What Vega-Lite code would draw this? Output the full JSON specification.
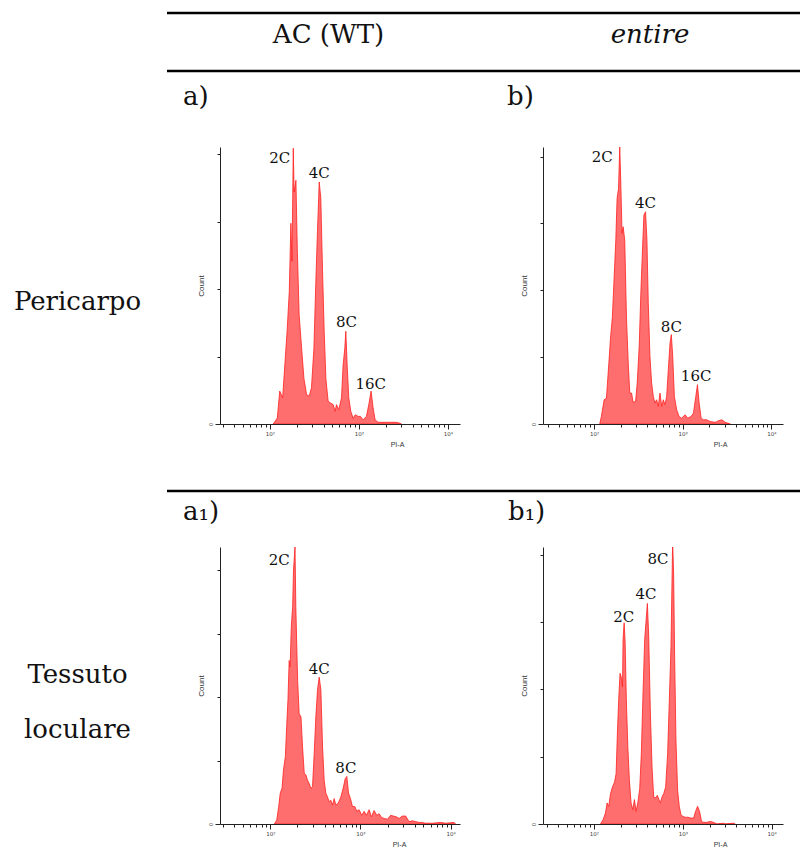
{
  "$schema": "https://vega.github.io/schema/vega-lite/v6.json",
  "padding": 0,
  "background": "white",
  "config": {
    "view": {"stroke": null},
    "axis": {"grid": false, "domainColor": "#222", "tickColor": "#222", "domainWidth": 1, "tickWidth": 1, "tickRound": true, "labelFont": "Liberation Sans", "titleFont": "Liberation Sans", "labelColor": "#444", "titleColor": "#333", "titleFontWeight": "normal"},
    "title": {"font": "DejaVu Serif", "fontSize": 26, "fontWeight": "normal", "color": "#111", "anchor": "start", "frame": "group"},
    "text": {"font": "DejaVu Serif", "color": "#111"},
    "rule": {"strokeWidth": 2.5, "color": "#000"}
  },
  "datasets": {
    "a": [
      {"pi":109,"count":0},{"pi":121,"count":7},{"pi":129,"count":39},{"pi":139,"count":31},{"pi":147,"count":70},{"pi":156,"count":110},{"pi":165,"count":157},{"pi":172,"count":238},{"pi":177,"count":193},{"pi":183,"count":327},{"pi":187,"count":275},{"pi":196,"count":289},{"pi":203,"count":208},{"pi":213,"count":129},{"pi":227,"count":90},{"pi":241,"count":54},{"pi":258,"count":35},{"pi":276,"count":33},{"pi":293,"count":43},{"pi":312,"count":90},{"pi":328,"count":169},{"pi":342,"count":228},{"pi":358,"count":287},{"pi":373,"count":268},{"pi":390,"count":181},{"pi":407,"count":110},{"pi":425,"count":54},{"pi":451,"count":27},{"pi":479,"count":25},{"pi":513,"count":23},{"pi":540,"count":15},{"pi":559,"count":23},{"pi":594,"count":17},{"pi":637,"count":31},{"pi":664,"count":70},{"pi":694,"count":90},{"pi":712,"count":110},{"pi":737,"count":70},{"pi":769,"count":31},{"pi":810,"count":15},{"pi":860,"count":7},{"pi":913,"count":11},{"pi":979,"count":9},{"pi":1039,"count":9},{"pi":1114,"count":5},{"pi":1214,"count":9},{"pi":1290,"count":23},{"pi":1369,"count":39},{"pi":1442,"count":19},{"pi":1518,"count":5},{"pi":1641,"count":2},{"pi":1866,"count":2},{"pi":2217,"count":2},{"pi":2634,"count":2},{"pi":2871,"count":1},{"pi":2997,"count":0}
    ],
    "b": [
      {"pi":116,"count":0},{"pi":121,"count":9},{"pi":130,"count":29},{"pi":138,"count":31},{"pi":147,"count":73},{"pi":153,"count":101},{"pi":161,"count":128},{"pi":168,"count":172},{"pi":176,"count":220},{"pi":182,"count":270},{"pi":189,"count":282},{"pi":195,"count":332},{"pi":200,"count":292},{"pi":207,"count":228},{"pi":213,"count":236},{"pi":222,"count":220},{"pi":232,"count":128},{"pi":243,"count":73},{"pi":253,"count":37},{"pi":265,"count":37},{"pi":276,"count":26},{"pi":294,"count":27},{"pi":307,"count":49},{"pi":323,"count":93},{"pi":338,"count":160},{"pi":353,"count":212},{"pi":365,"count":250},{"pi":381,"count":254},{"pi":395,"count":220},{"pi":409,"count":144},{"pi":427,"count":81},{"pi":446,"count":49},{"pi":466,"count":33},{"pi":486,"count":25},{"pi":508,"count":29},{"pi":530,"count":21},{"pi":554,"count":37},{"pi":579,"count":21},{"pi":604,"count":29},{"pi":631,"count":23},{"pi":659,"count":33},{"pi":688,"count":65},{"pi":719,"count":97},{"pi":744,"count":107},{"pi":771,"count":81},{"pi":805,"count":33},{"pi":855,"count":17},{"pi":909,"count":9},{"pi":974,"count":7},{"pi":1063,"count":11},{"pi":1139,"count":7},{"pi":1243,"count":9},{"pi":1321,"count":13},{"pi":1404,"count":33},{"pi":1466,"count":47},{"pi":1531,"count":25},{"pi":1613,"count":7},{"pi":1714,"count":5},{"pi":1870,"count":5},{"pi":2039,"count":3},{"pi":2323,"count":2},{"pi":2534,"count":4},{"pi":2764,"count":5},{"pi":3015,"count":2},{"pi":3435,"count":0}
    ],
    "a1": [
      {"pi":111,"count":0},{"pi":118,"count":5},{"pi":124,"count":22},{"pi":129,"count":39},{"pi":135,"count":45},{"pi":140,"count":68},{"pi":147,"count":85},{"pi":152,"count":123},{"pi":157,"count":156},{"pi":162,"count":206},{"pi":166,"count":198},{"pi":171,"count":248},{"pi":177,"count":274},{"pi":181,"count":320},{"pi":188,"count":349},{"pi":192,"count":274},{"pi":201,"count":181},{"pi":209,"count":139},{"pi":219,"count":135},{"pi":228,"count":97},{"pi":238,"count":64},{"pi":248,"count":62},{"pi":259,"count":55},{"pi":270,"count":51},{"pi":282,"count":45},{"pi":294,"count":47},{"pi":307,"count":89},{"pi":320,"count":135},{"pi":334,"count":169},{"pi":349,"count":185},{"pi":364,"count":169},{"pi":380,"count":97},{"pi":396,"count":55},{"pi":413,"count":39},{"pi":431,"count":34},{"pi":450,"count":28},{"pi":469,"count":30},{"pi":490,"count":24},{"pi":511,"count":32},{"pi":533,"count":24},{"pi":566,"count":26},{"pi":606,"count":34},{"pi":643,"count":45},{"pi":677,"count":57},{"pi":706,"count":60},{"pi":737,"count":39},{"pi":775,"count":32},{"pi":815,"count":22},{"pi":866,"count":22},{"pi":911,"count":16},{"pi":966,"count":18},{"pi":1035,"count":11},{"pi":1098,"count":16},{"pi":1165,"count":11},{"pi":1247,"count":18},{"pi":1324,"count":9},{"pi":1417,"count":17},{"pi":1516,"count":11},{"pi":1609,"count":13},{"pi":1722,"count":8},{"pi":1828,"count":7},{"pi":1991,"count":6},{"pi":2167,"count":11},{"pi":2319,"count":10},{"pi":2503,"count":9},{"pi":2679,"count":7},{"pi":2917,"count":10},{"pi":3176,"count":10},{"pi":3458,"count":3},{"pi":3764,"count":4},{"pi":4098,"count":3},{"pi":4461,"count":2},{"pi":4857,"count":2},{"pi":5287,"count":1},{"pi":6266,"count":1},{"pi":7749,"count":2},{"pi":8805,"count":1},{"pi":10887,"count":2},{"pi":11363,"count":0}
    ],
    "b1": [
      {"pi":119,"count":0},{"pi":127,"count":5},{"pi":135,"count":13},{"pi":141,"count":25},{"pi":147,"count":21},{"pi":154,"count":36},{"pi":162,"count":44},{"pi":171,"count":50},{"pi":178,"count":60},{"pi":184,"count":108},{"pi":191,"count":151},{"pi":197,"count":179},{"pi":203,"count":175},{"pi":210,"count":163},{"pi":213,"count":219},{"pi":219,"count":239},{"pi":225,"count":215},{"pi":232,"count":147},{"pi":241,"count":92},{"pi":251,"count":52},{"pi":262,"count":25},{"pi":274,"count":17},{"pi":286,"count":29},{"pi":298,"count":15},{"pi":312,"count":25},{"pi":328,"count":42},{"pi":342,"count":84},{"pi":358,"count":159},{"pi":373,"count":219},{"pi":390,"count":247},{"pi":400,"count":262},{"pi":414,"count":223},{"pi":432,"count":132},{"pi":451,"count":68},{"pi":471,"count":32},{"pi":492,"count":31},{"pi":518,"count":34},{"pi":540,"count":29},{"pi":559,"count":25},{"pi":584,"count":32},{"pi":610,"count":36},{"pi":642,"count":44},{"pi":676,"count":84},{"pi":706,"count":147},{"pi":737,"count":211},{"pi":756,"count":286},{"pi":769,"count":335},{"pi":789,"count":298},{"pi":810,"count":199},{"pi":838,"count":100},{"pi":875,"count":40},{"pi":913,"count":21},{"pi":954,"count":11},{"pi":1004,"count":9},{"pi":1067,"count":8},{"pi":1143,"count":8},{"pi":1235,"count":7},{"pi":1323,"count":7},{"pi":1393,"count":15},{"pi":1467,"count":21},{"pi":1545,"count":15},{"pi":1626,"count":3},{"pi":1713,"count":2},{"pi":1866,"count":2},{"pi":2034,"count":3},{"pi":2217,"count":2},{"pi":2417,"count":0},{"pi":2871,"count":1},{"pi":2997,"count":0},{"pi":3717,"count":1},{"pi":3880,"count":0}
    ],
    "peaks": [
      {"panel":"a","label":"2C","pi":129,"count":315},{"panel":"a","label":"4C","pi":358,"count":298},{"panel":"a","label":"8C","pi":724,"count":121},{"panel":"a","label":"16C","pi":1359,"count":48},
      {"panel":"b","label":"2C","pi":124,"count":320},{"panel":"b","label":"4C","pi":381,"count":264},{"panel":"b","label":"8C","pi":745,"count":116},{"panel":"b","label":"16C","pi":1416,"count":57},
      {"panel":"a1","label":"2C","pi":126,"count":333},{"panel":"a1","label":"4C","pi":349,"count":195},{"panel":"a1","label":"8C","pi":689,"count":70},
      {"panel":"b1","label":"2C","pi":217,"count":246},{"panel":"b1","label":"4C","pi":386,"count":273},{"panel":"b1","label":"8C","pi":527,"count":315}
    ],
    "headers": [{"col":"A","name":"AC (WT)"},{"col":"B","name":"entire"}],
    "rows": [{"row":"A","name":"Pericarpo"},{"row":"B","name":["Tessuto","loculare"]}]
  },
  "concat": [
    {"width": 1, "height": 13, "data": {"values": [{}]}, "mark": "text", "encoding": {}},
    {"width": 1, "height": 13, "data": {"values": [{}]}, "mark": "text", "encoding": {}},
    {"width": 1, "height": 13, "data": {"values": [{}]}, "mark": "text", "encoding": {}},
    {"width": 1, "height": 13, "data": {"values": [{}]}, "mark": "text", "encoding": {}},
    {"width": 1, "height": 13, "data": {"values": [{}]}, "mark": "text", "encoding": {}},
    {"width": 1, "height": 13, "data": {"values": [{}]}, "mark": "text", "encoding": {}},
    {"width": 1, "height": 13, "data": {"values": [{}]}, "mark": "text", "encoding": {}},

    {"width": 167, "height": 58, "data": {"values": [{}]}, "mark": "text", "encoding": {}},
    {"width": 53, "height": 58, "data": {"values": [{}]}, "layer": [
      {"mark": "rule", "encoding": {"y": {"datum": 1, "type": "quantitative", "scale": {"domain": [0, 1]}, "axis": null}}},
      {"mark": "rule", "encoding": {"y": {"datum": 0, "type": "quantitative", "scale": {"domain": [0, 1]}, "axis": null}}}]},
    {"width": 240, "height": 58, "data": {"values": [{}]}, "layer": [
      {"mark": "rule", "encoding": {"y": {"datum": 1, "type": "quantitative", "scale": {"domain": [0, 1]}, "axis": null}}},
      {"mark": "rule", "encoding": {"y": {"datum": 0, "type": "quantitative", "scale": {"domain": [0, 1]}, "axis": null}}},
      {"data": {"name": "headers"}, "transform": [{"filter": "datum.col == 'A'"}], "mark": {"type": "text", "fontSize": 26, "baseline": "alphabetic", "dx": -11.5, "dy": 1}, "encoding": {"text": {"field": "name"}}}]},
    {"width": 29, "height": 58, "data": {"values": [{}]}, "layer": [
      {"mark": "rule", "encoding": {"y": {"datum": 1, "type": "quantitative", "scale": {"domain": [0, 1]}, "axis": null}}},
      {"mark": "rule", "encoding": {"y": {"datum": 0, "type": "quantitative", "scale": {"domain": [0, 1]}, "axis": null}}}]},
    {"width": 54, "height": 58, "data": {"values": [{}]}, "layer": [
      {"mark": "rule", "encoding": {"y": {"datum": 1, "type": "quantitative", "scale": {"domain": [0, 1]}, "axis": null}}},
      {"mark": "rule", "encoding": {"y": {"datum": 0, "type": "quantitative", "scale": {"domain": [0, 1]}, "axis": null}}}]},
    {"width": 240, "height": 58, "data": {"values": [{}]}, "layer": [
      {"mark": "rule", "encoding": {"y": {"datum": 1, "type": "quantitative", "scale": {"domain": [0, 1]}, "axis": null}}},
      {"mark": "rule", "encoding": {"y": {"datum": 0, "type": "quantitative", "scale": {"domain": [0, 1]}, "axis": null}}},
      {"data": {"name": "headers"}, "transform": [{"filter": "datum.col == 'B'"}], "mark": {"type": "text", "fontSize": 26, "fontStyle": "italic", "baseline": "alphabetic", "dx": -13, "dy": 1}, "encoding": {"text": {"field": "name"}}}]},
    {"width": 17, "height": 58, "data": {"values": [{}]}, "layer": [
      {"mark": "rule", "encoding": {"y": {"datum": 1, "type": "quantitative", "scale": {"domain": [0, 1]}, "axis": null}}},
      {"mark": "rule", "encoding": {"y": {"datum": 0, "type": "quantitative", "scale": {"domain": [0, 1]}, "axis": null}}}]},

    {"width": 1, "height": 76, "data": {"values": [{}]}, "mark": "text", "encoding": {}},
    {"width": 1, "height": 76, "data": {"values": [{}]}, "mark": "text", "encoding": {}},
    {"width": 1, "height": 76, "data": {"values": [{}]}, "mark": "text", "encoding": {}},
    {"width": 1, "height": 76, "data": {"values": [{}]}, "mark": "text", "encoding": {}},
    {"width": 1, "height": 76, "data": {"values": [{}]}, "mark": "text", "encoding": {}},
    {"width": 1, "height": 76, "data": {"values": [{}]}, "mark": "text", "encoding": {}},
    {"width": 1, "height": 76, "data": {"values": [{}]}, "mark": "text", "encoding": {}},

    {"width": 167, "height": 277, "data": {"name": "rows"}, "transform": [{"filter": "datum.row == 'A'"}], "mark": {"type": "text", "fontSize": 26, "baseline": "alphabetic", "dx": -6, "dy": 24}, "encoding": {"text": {"field": "name"}}},
    {"width": 1, "height": 277, "data": {"values": [{}]}, "mark": "text", "encoding": {}},
    {
      "width": 240, "height": 277,
      "title": {"text": "a)", "dx": -37, "offset": 16, "baseline": "alphabetic"},
      "layer": [
        {"data": {"name": "a"}, "mark": {"type": "area", "fill": "#ff6e6e", "stroke": "#ff2020", "strokeWidth": 0.8, "clip": true},
         "encoding": {
           "x": {"field": "pi", "type": "quantitative", "title": "PI-A", "scale": {"type": "log", "domain": [27.5, 13650], "nice": false},
                 "axis": {"values": [30,40,50,60,70,80,90,100,200,300,400,500,600,700,800,900,1000,2000,3000,4000,5000,6000,7000,8000,9000,10000], "labelExpr": "datum.value == 100 ? '10²' : datum.value == 1000 ? '10³' : datum.value == 10000 ? '10⁴' : ''", "tickSize": {"condition": {"test": "datum.value == 100 || datum.value == 1000 || datum.value == 10000", "value": 5}, "value": 3}, "labelFont": "DejaVu Sans", "labelFontSize": 5.5, "labelPadding": 2, "labelOverlap": false, "titleFontSize": 7, "titleX": 177, "titleY": 20, "titleAlign": "center", "titleBaseline": "middle"}},
           "y": {"field": "count", "type": "quantitative", "title": "Count", "scale": {"domain": [0, 328.5], "nice": false},
                 "axis": {"values": [0,10,20,30,40,50,60,70,80,90,100,110,120,130,140,150,160,170,180,190,200,210,220,230,240,250,260,270,280,290,300,310,320], "labelExpr": "datum.value % 50 === 0 ? datum.label : ''", "tickSize": {"condition": {"test": "datum.value % 50 === 0", "value": 5}, "value": 3}, "labelAngle": 270, "labelAlign": "center", "labelBaseline": "bottom", "labelFontSize": 5.5, "labelPadding": 2, "labelOverlap": false, "titleFontSize": 8, "titlePadding": 3}}
         }},
        {"data": {"name": "peaks"}, "transform": [{"filter": "datum.panel == 'a'"}], "mark": {"type": "text", "fontSize": 15, "baseline": "middle"},
         "encoding": {"x": {"field": "pi", "type": "quantitative", "title": "PI-A"}, "y": {"field": "count", "type": "quantitative", "title": "Count"}, "text": {"field": "label"}}}
      ]
    },
    {"width": 1, "height": 277, "data": {"values": [{}]}, "mark": "text", "encoding": {}},
    {"width": 1, "height": 277, "data": {"values": [{}]}, "mark": "text", "encoding": {}},
    {
      "width": 240, "height": 277,
      "title": {"text": "b)", "dx": -36, "offset": 16, "baseline": "alphabetic"},
      "layer": [
        {"data": {"name": "b"}, "mark": {"type": "area", "fill": "#ff6e6e", "stroke": "#ff2020", "strokeWidth": 0.8, "clip": true},
         "encoding": {
           "x": {"field": "pi", "type": "quantitative", "title": "PI-A", "scale": {"type": "log", "domain": [26.6, 13500], "nice": false},
                 "axis": {"values": [30,40,50,60,70,80,90,100,200,300,400,500,600,700,800,900,1000,2000,3000,4000,5000,6000,7000,8000,9000,10000], "labelExpr": "datum.value == 100 ? '10²' : datum.value == 1000 ? '10³' : datum.value == 10000 ? '10⁴' : ''", "tickSize": {"condition": {"test": "datum.value == 100 || datum.value == 1000 || datum.value == 10000", "value": 5}, "value": 3}, "labelFont": "DejaVu Sans", "labelFontSize": 5.5, "labelPadding": 2, "labelOverlap": false, "titleFontSize": 7, "titleX": 177, "titleY": 20, "titleAlign": "center", "titleBaseline": "middle"}},
           "y": {"field": "count", "type": "quantitative", "title": "Count", "scale": {"domain": [0, 331.5], "nice": false},
                 "axis": {"values": [0,10,20,30,40,50,60,70,80,90,100,110,120,130,140,150,160,170,180,190,200,210,220,230,240,250,260,270,280,290,300,310,320,330], "labelExpr": "datum.value % 50 === 0 ? datum.label : ''", "tickSize": {"condition": {"test": "datum.value % 50 === 0", "value": 5}, "value": 3}, "labelAngle": 270, "labelAlign": "center", "labelBaseline": "bottom", "labelFontSize": 5.5, "labelPadding": 2, "labelOverlap": false, "titleFontSize": 8, "titlePadding": 3}}
         }},
        {"data": {"name": "peaks"}, "transform": [{"filter": "datum.panel == 'b'"}], "mark": {"type": "text", "fontSize": 15, "baseline": "middle"},
         "encoding": {"x": {"field": "pi", "type": "quantitative", "title": "PI-A"}, "y": {"field": "count", "type": "quantitative", "title": "Count"}, "text": {"field": "label"}}}
      ]
    },
    {"width": 1, "height": 277, "data": {"values": [{}]}, "mark": "text", "encoding": {}},

    {"width": 1, "height": 67, "data": {"values": [{}]}, "mark": "text", "encoding": {}},
    {"width": 1, "height": 67, "data": {"values": [{}]}, "mark": "text", "encoding": {}},
    {"width": 1, "height": 67, "data": {"values": [{}]}, "mark": "text", "encoding": {}},
    {"width": 1, "height": 67, "data": {"values": [{}]}, "mark": "text", "encoding": {}},
    {"width": 1, "height": 67, "data": {"values": [{}]}, "mark": "text", "encoding": {}},
    {"width": 1, "height": 67, "data": {"values": [{}]}, "mark": "text", "encoding": {}},
    {"width": 1, "height": 67, "data": {"values": [{}]}, "mark": "text", "encoding": {}},

    {"width": 167, "height": 56, "data": {"values": [{}]}, "mark": "text", "encoding": {}},
    {"width": 53, "height": 56, "data": {"values": [{}]}, "mark": "rule", "encoding": {"y": {"datum": 1, "type": "quantitative", "scale": {"domain": [0, 1]}, "axis": null}}},
    {"width": 240, "height": 56, "data": {"values": [{}]}, "mark": "rule", "encoding": {"y": {"datum": 1, "type": "quantitative", "scale": {"domain": [0, 1]}, "axis": null}}},
    {"width": 29, "height": 56, "data": {"values": [{}]}, "mark": "rule", "encoding": {"y": {"datum": 1, "type": "quantitative", "scale": {"domain": [0, 1]}, "axis": null}}},
    {"width": 54, "height": 56, "data": {"values": [{}]}, "mark": "rule", "encoding": {"y": {"datum": 1, "type": "quantitative", "scale": {"domain": [0, 1]}, "axis": null}}},
    {"width": 240, "height": 56, "data": {"values": [{}]}, "mark": "rule", "encoding": {"y": {"datum": 1, "type": "quantitative", "scale": {"domain": [0, 1]}, "axis": null}}},
    {"width": 17, "height": 56, "data": {"values": [{}]}, "mark": "rule", "encoding": {"y": {"datum": 1, "type": "quantitative", "scale": {"domain": [0, 1]}, "axis": null}}},

    {"width": 167, "height": 277, "data": {"name": "rows"}, "transform": [{"filter": "datum.row == 'B'"}], "mark": {"type": "text", "fontSize": 26, "baseline": "alphabetic", "lineHeight": 55, "dx": -6, "dy": -2.5}, "encoding": {"text": {"field": "name"}}},
    {"width": 1, "height": 277, "data": {"values": [{}]}, "mark": "text", "encoding": {}},
    {
      "width": 240, "height": 277,
      "title": {"text": "a₁)", "dx": -37, "offset": 1, "baseline": "alphabetic"},
      "layer": [
        {"data": {"name": "a1"}, "mark": {"type": "area", "fill": "#ff6e6e", "stroke": "#ff2020", "strokeWidth": 0.8, "clip": true},
         "encoding": {
           "x": {"field": "pi", "type": "quantitative", "title": "PI-A", "scale": {"type": "log", "domain": [27.7, 12700], "nice": false},
                 "axis": {"values": [30,40,50,60,70,80,90,100,200,300,400,500,600,700,800,900,1000,2000,3000,4000,5000,6000,7000,8000,9000,10000], "labelExpr": "datum.value == 100 ? '10²' : datum.value == 1000 ? '10³' : datum.value == 10000 ? '10⁴' : ''", "tickSize": {"condition": {"test": "datum.value == 100 || datum.value == 1000 || datum.value == 10000", "value": 5}, "value": 3}, "labelFont": "DejaVu Sans", "labelFontSize": 5.5, "labelPadding": 2, "labelOverlap": false, "titleFontSize": 7, "titleX": 179, "titleY": 20, "titleAlign": "center", "titleBaseline": "middle"}},
           "y": {"field": "count", "type": "quantitative", "title": "Count", "scale": {"domain": [0, 349], "nice": false},
                 "axis": {"values": [0,10,20,30,40,50,60,70,80,90,100,110,120,130,140,150,160,170,180,190,200,210,220,230,240,250,260,270,280,290,300,310,320,330,340], "labelExpr": "datum.value % 50 === 0 ? datum.label : ''", "tickSize": {"condition": {"test": "datum.value % 50 === 0", "value": 5}, "value": 3}, "labelAngle": 270, "labelAlign": "center", "labelBaseline": "bottom", "labelFontSize": 5.5, "labelPadding": 2, "labelOverlap": false, "titleFontSize": 8, "titlePadding": 3}}
         }},
        {"data": {"name": "peaks"}, "transform": [{"filter": "datum.panel == 'a1'"}], "mark": {"type": "text", "fontSize": 15, "baseline": "middle"},
         "encoding": {"x": {"field": "pi", "type": "quantitative", "title": "PI-A"}, "y": {"field": "count", "type": "quantitative", "title": "Count"}, "text": {"field": "label"}}}
      ]
    },
    {"width": 1, "height": 277, "data": {"values": [{}]}, "mark": "text", "encoding": {}},
    {"width": 1, "height": 277, "data": {"values": [{}]}, "mark": "text", "encoding": {}},
    {
      "width": 240, "height": 277,
      "title": {"text": "b₁)", "dx": -35, "offset": 1, "baseline": "alphabetic"},
      "layer": [
        {"data": {"name": "b1"}, "mark": {"type": "area", "fill": "#ff6e6e", "stroke": "#ff2020", "strokeWidth": 0.8, "clip": true},
         "encoding": {
           "x": {"field": "pi", "type": "quantitative", "title": "PI-A", "scale": {"type": "log", "domain": [26.8, 13400], "nice": false},
                 "axis": {"values": [30,40,50,60,70,80,90,100,200,300,400,500,600,700,800,900,1000,2000,3000,4000,5000,6000,7000,8000,9000,10000], "labelExpr": "datum.value == 100 ? '10²' : datum.value == 1000 ? '10³' : datum.value == 10000 ? '10⁴' : ''", "tickSize": {"condition": {"test": "datum.value == 100 || datum.value == 1000 || datum.value == 10000", "value": 5}, "value": 3}, "labelFont": "DejaVu Sans", "labelFontSize": 5.5, "labelPadding": 2, "labelOverlap": false, "titleFontSize": 7, "titleX": 177, "titleY": 20, "titleAlign": "center", "titleBaseline": "middle"}},
           "y": {"field": "count", "type": "quantitative", "title": "Count", "scale": {"domain": [0, 329], "nice": false},
                 "axis": {"values": [0,10,20,30,40,50,60,70,80,90,100,110,120,130,140,150,160,170,180,190,200,210,220,230,240,250,260,270,280,290,300,310,320], "labelExpr": "datum.value % 50 === 0 ? datum.label : ''", "tickSize": {"condition": {"test": "datum.value % 50 === 0", "value": 5}, "value": 3}, "labelAngle": 270, "labelAlign": "center", "labelBaseline": "bottom", "labelFontSize": 5.5, "labelPadding": 2, "labelOverlap": false, "titleFontSize": 8, "titlePadding": 3}}
         }},
        {"data": {"name": "peaks"}, "transform": [{"filter": "datum.panel == 'b1'"}], "mark": {"type": "text", "fontSize": 15, "baseline": "middle"},
         "encoding": {"x": {"field": "pi", "type": "quantitative", "title": "PI-A"}, "y": {"field": "count", "type": "quantitative", "title": "Count"}, "text": {"field": "label"}}}
      ]
    },
    {"width": 1, "height": 277, "data": {"values": [{}]}, "mark": "text", "encoding": {}}
  ],
  "columns": 7,
  "bounds": "flush",
  "spacing": 0
}
